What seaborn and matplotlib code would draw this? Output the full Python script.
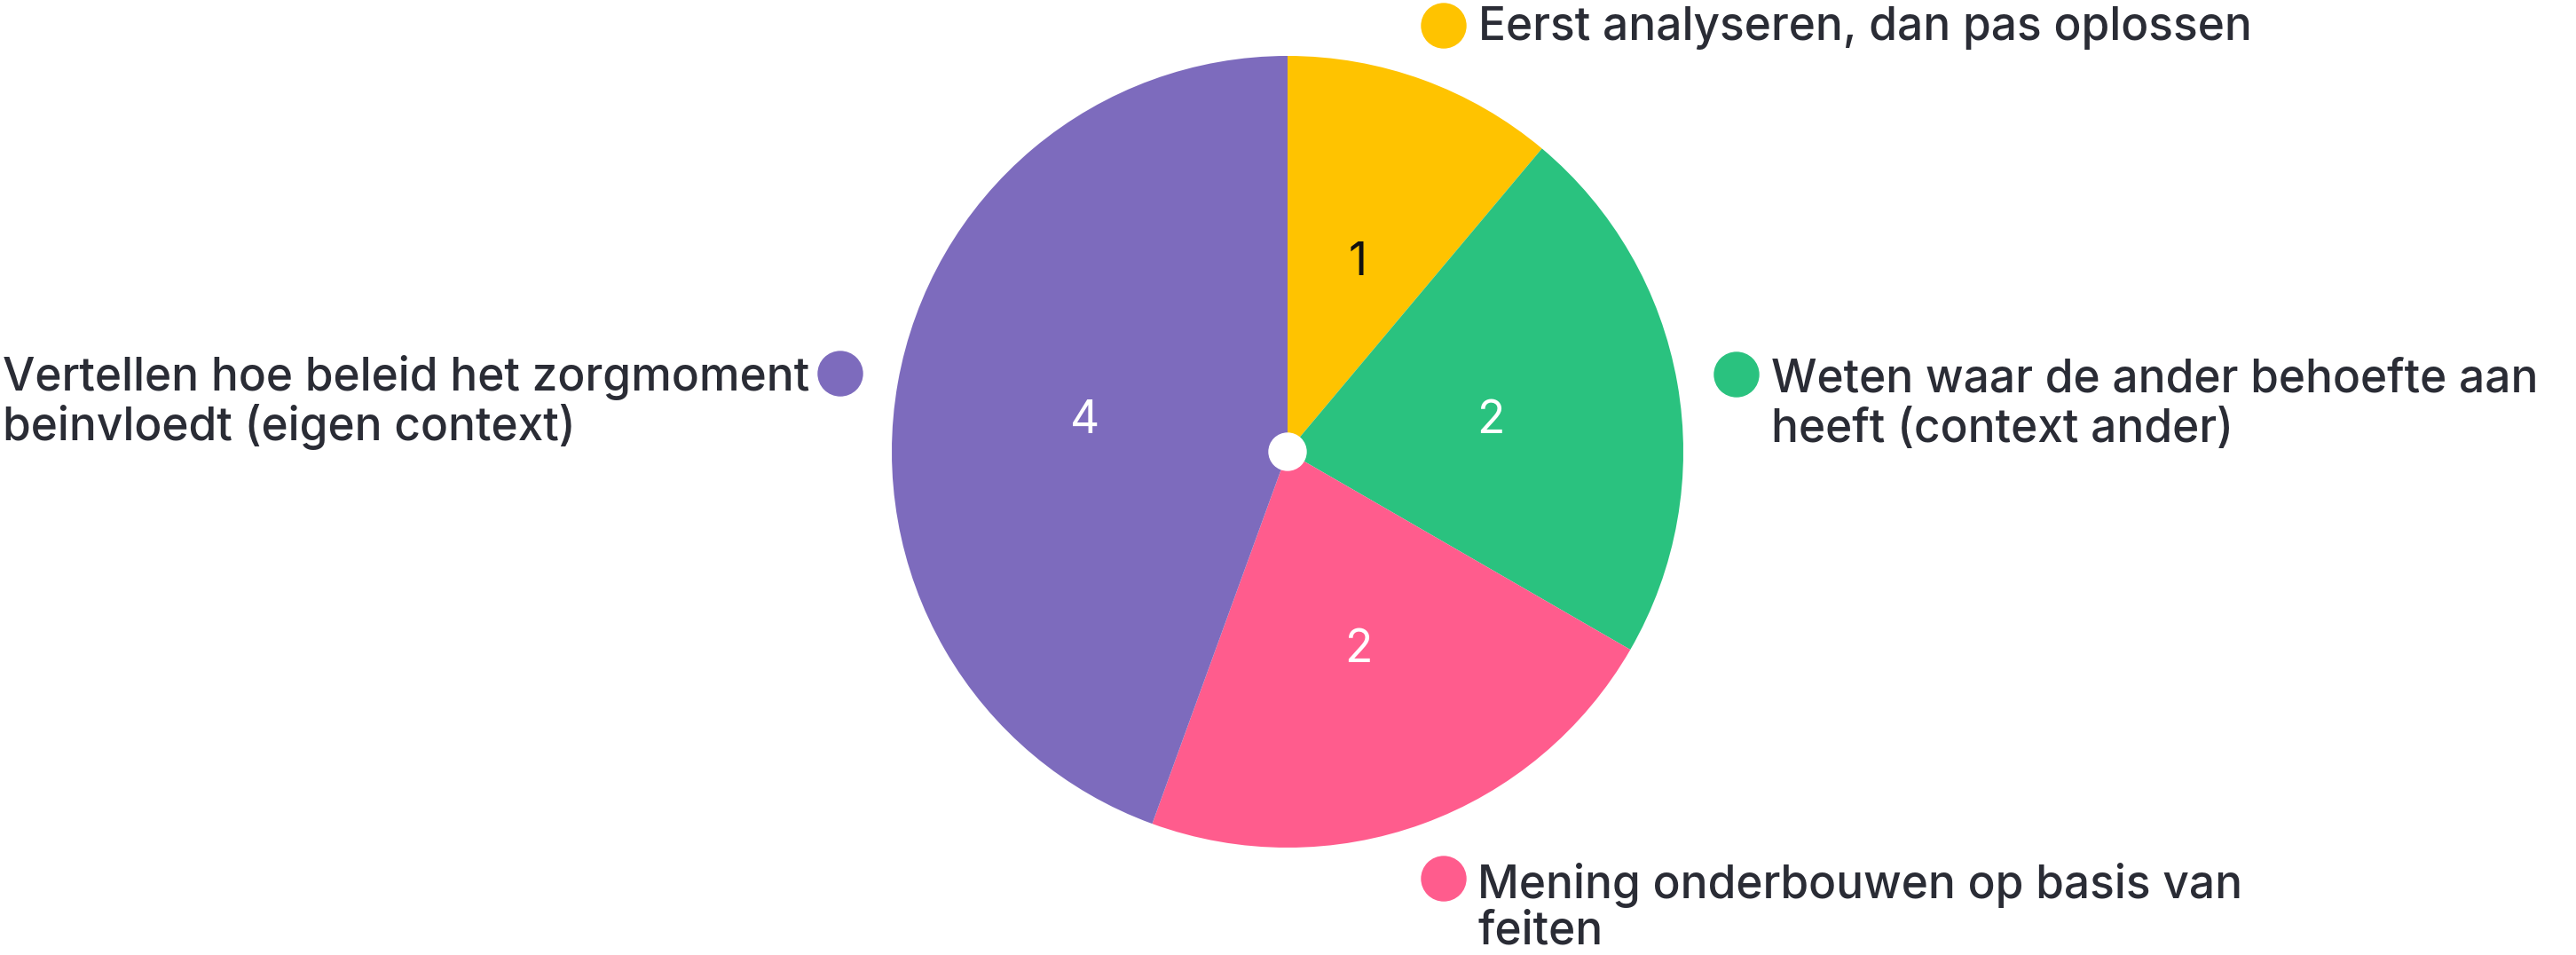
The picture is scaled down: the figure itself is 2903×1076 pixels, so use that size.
import matplotlib
matplotlib.use("Agg")
import matplotlib.pyplot as plt
from matplotlib.patches import Circle
import seaborn as sns

# ---- data ----
categories = [
    "Eerst analyseren, dan pas oplossen",
    "Weten waar de ander behoefte aan\nheeft (context ander)",
    "Mening onderbouwen op basis van\nfeiten",
    "Vertellen hoe beleid het zorgmoment\nbeinvloedt (eigen context)",
]
counts = [1, 2, 2, 4]
slice_colors = ["#FFC300", "#2AC27F", "#FF5C8D", "#7D6BBD"]
value_text_colors = ["#111111", "white", "white", "white"]

# ---- layout (pixels, origin top-left) ----
W, H = 2903, 1076
pie_center = (1451, 509)
pie_radius = 446
# (dot x, dot y, text x, first baseline y, line step)
label_pos = [
    (1627, 29, 1666, 45, 56),
    (1957, 422, 1996, 442, 56),
    (1627, 990, 1665, 1012, 52),
    (947, 421, 3, 440, 56),
]
dot_r = 25
text_color = "#2A2C35"
fs = 37

sns.set_theme(style="white")
plt.rcParams['font.family'] = ['Inter', 'DejaVu Sans']

fig = plt.figure(figsize=(W / 100, H / 100), dpi=100)
fig.patch.set_facecolor("white")
ax = fig.add_axes([0, 0, 1, 1])

palette = sns.color_palette(slice_colors)
total = sum(counts)
wedges, _, autotexts = ax.pie(
    counts,
    colors=palette,
    startangle=90,
    counterclock=False,
    center=(pie_center[0], H - pie_center[1]),
    radius=pie_radius,
    autopct=lambda p: f"{p * total / 100:.0f}",
    pctdistance=0.52,
    wedgeprops=dict(linewidth=0),
    textprops=dict(fontsize=fs),
)
for t, c in zip(autotexts, value_text_colors):
    t.set_color(c)
    t.set_va("center_baseline")

ax.add_patch(Circle((pie_center[0], H - pie_center[1]), 21, color="white", zorder=5))

for (dx, dy, tx, by, step), lab, col in zip(label_pos, categories, palette):
    ax.add_patch(Circle((dx, H - dy), dot_r, color=col, zorder=5))
    for i, line in enumerate(lab.split("\n")):
        ax.text(tx, H - (by + i * step), line, ha="left", va="baseline",
                fontsize=fs, color=text_color, fontweight="medium")

ax.set_xlim(0, W)
ax.set_ylim(0, H)
ax.set_aspect("equal")
ax.axis("off")

fig.savefig("out.png", dpi=100, facecolor="white")
